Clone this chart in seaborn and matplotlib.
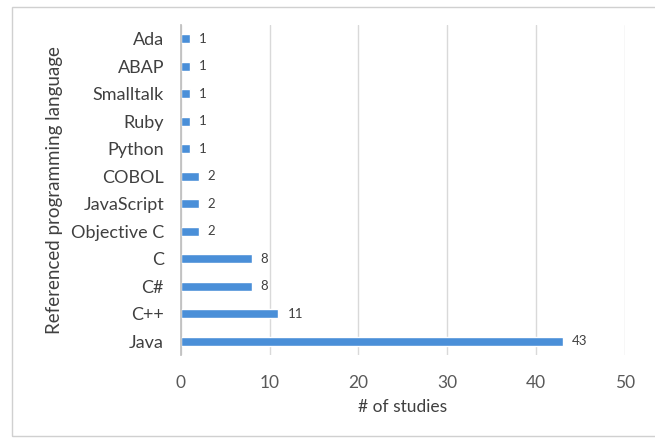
import matplotlib
matplotlib.use("Agg")
import matplotlib.pyplot as plt
import seaborn as sns
import pandas as pd
from matplotlib.patches import Rectangle

languages = ["Ada", "ABAP", "Smalltalk", "Ruby", "Python", "COBOL", "JavaScript",
             "Objective C", "C", "C#", "C++", "Java"]
studies = [1, 1, 1, 1, 1, 2, 2, 2, 8, 8, 11, 43]
x_ticks = [0, 10, 20, 30, 40, 50]

sns.set_theme(style="white")
plt.rcParams["font.family"] = ["Lato", "DejaVu Sans"]

df = pd.DataFrame({"lang": languages, "n": studies})

fig = plt.figure(figsize=(6.55, 4.38), dpi=100)
ax = fig.add_axes([0.276, 0.189, 0.678, 0.754])

sns.barplot(data=df, y="lang", x="n", orient="h", color="#4A8FD8",
            width=0.33, ax=ax, saturation=1)

for i, v in enumerate(studies):
    ax.text(v + 1.0, i, str(v), va="center", ha="left", fontsize=9.5, color="#404040")

ax.set_xlim(0, 50)
ax.set_xticks(x_ticks)
ax.set_xticklabels([str(t) for t in x_ticks], fontsize=12.5, color="#595959")
ax.tick_params(axis="y", labelsize=13, labelcolor="#404040", length=0, pad=12)
ax.tick_params(axis="x", length=0, pad=14)
ax.set_ylim(len(languages) - 0.5, -0.5)
ax.xaxis.grid(True, color="#D9D9D9", linewidth=1)
ax.set_axisbelow(True)
for s in ["top", "right", "bottom"]:
    ax.spines[s].set_visible(False)
ax.spines["left"].set_color("#BFBFBF")
ax.set_xlabel("# of studies", fontsize=12.5, color="#404040", labelpad=6)
ax.set_ylabel("Referenced programming language", fontsize=13.5, color="#404040", labelpad=6)

fig.patches.append(Rectangle((12 / 655, 0.005), 0.99, 1 - 7 / 438 - 0.005,
                             transform=fig.transFigure, fill=False,
                             edgecolor="#D0D0D0", linewidth=1))

fig.savefig("out.png", dpi=100)
